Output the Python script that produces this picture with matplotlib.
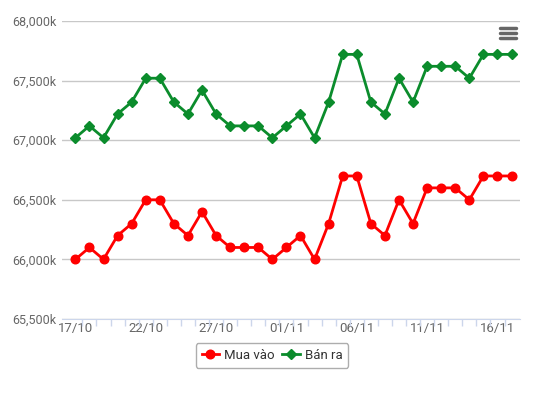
import matplotlib
matplotlib.use("Agg")
import numpy as np
from matplotlib import pyplot as plt
from matplotlib.ticker import FuncFormatter

# dates 17/10 .. 17/11
dates = ["17/10", "18/10", "19/10", "20/10", "21/10", "22/10", "23/10", "24/10",
         "25/10", "26/10", "27/10", "28/10", "29/10", "30/10", "31/10",
         "01/11", "02/11", "03/11", "04/11", "05/11", "06/11", "07/11", "08/11",
         "09/11", "10/11", "11/11", "12/11", "13/11", "14/11", "15/11", "16/11", "17/11"]
mua_vao = [66000, 66100, 66000, 66200, 66300, 66500, 66500, 66300,
           66200, 66400, 66200, 66100, 66100, 66100, 66000,
           66100, 66200, 66000, 66300, 66700, 66700, 66300, 66200,
           66500, 66300, 66600, 66600, 66600, 66500, 66700, 66700, 66700]
ban_ra = [67020, 67120, 67020, 67220, 67320, 67520, 67520, 67320,
          67220, 67420, 67220, 67120, 67120, 67120, 67020,
          67120, 67220, 67020, 67320, 67720, 67720, 67320, 67220,
          67520, 67320, 67620, 67620, 67620, 67520, 67720, 67720, 67720]
label_every = 5

plt.rcParams["font.family"] = ["Roboto", "DejaVu Sans"]

fig = plt.figure(figsize=(5.46, 3.93), dpi=100)
ax = fig.add_axes([62 / 546, 1 - 319 / 393, (520 - 62) / 546, (319 - 21) / 393])

x = np.arange(len(dates))
ax.plot(x, mua_vao, color="#ff0000", lw=2, marker="o", ms=6.2, label="Mua vào", zorder=3)
ax.plot(x, ban_ra, color="#0b8c2c", lw=2, marker="D", ms=5.2, label="Bán ra", zorder=3)

ax.set_ylim(65500, 68000)
ax.set_yticks(np.arange(65500, 68001, 500))
ax.yaxis.set_major_formatter(FuncFormatter(lambda v, _: f"{int(v):,}k"))
ax.set_xlim(-0.95, len(dates) - 1 + 0.6)
ax.set_xticks(x[::label_every])
ax.set_xticklabels(dates[::label_every])
ax.set_xticks(x[:-1] + 0.5, minor=True)

ax.grid(axis="y", color="#c8c8c8", lw=1)
ax.set_axisbelow(True)
for s in ["top", "right", "left"]:
    ax.spines[s].set_visible(False)
ax.spines["bottom"].set_color("#ccd6eb")
ax.tick_params(axis="y", length=0, labelsize=9, labelcolor="#666666", pad=4)
ax.tick_params(axis="x", which="major", length=0, labelsize=9.5, labelcolor="#666666", pad=2)
ax.tick_params(axis="x", which="minor", length=5, color="#ccd6eb", width=1)

# legend centred on the whole chart, like Highcharts
leg = fig.legend(loc="upper center", bbox_to_anchor=(272 / 546, 1 - 343 / 393),
                 bbox_transform=fig.transFigure, borderaxespad=0, ncol=2, frameon=True,
                 fontsize=9.5, handlelength=1.3, handletextpad=0.38, columnspacing=0.6,
                 borderpad=0.45, fancybox=True, labelcolor="#333333")
leg.get_frame().set_edgecolor("#999999")
leg.get_frame().set_linewidth(1)

# menu icon
for yy in [28, 33, 38]:
    fig.add_artist(plt.Line2D([500 / 546, 516 / 546], [1 - yy / 393] * 2,
                              color="#666666", lw=2.5, solid_capstyle="round"))

fig.savefig("out.png", dpi=100)
